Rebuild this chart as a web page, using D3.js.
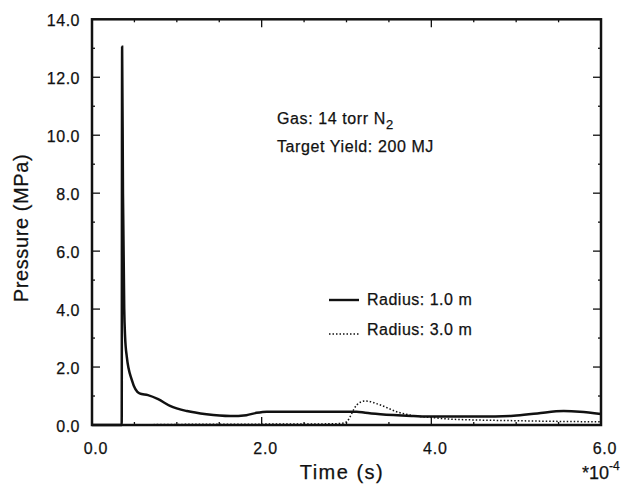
<!DOCTYPE html>
<html>
  <head>
    <meta charset="utf-8">
    <script type="text/javascript" src="https://d3js.org/d3.v7.min.js"></script>
  </head>
  <style>
    body { margin: 0; background: #fff; }
    svg text { font-family: "Liberation Sans", Arial, sans-serif; fill: #111; stroke: #111; stroke-width: 0.25px; }
  </style>
  <body>
    <script type="text/javascript">
        // radius 1.0 m (solid)
        var timeR1  = [0, 0.35, 0.355, 0.365, 0.38, 0.39, 0.41, 0.47, 0.56, 0.66, 0.78, 0.92, 1.12, 1.35, 1.63, 1.82, 1.94, 2.06, 2.34, 2.8, 3.12, 3.22, 3.4, 3.79, 4.0, 4.58, 4.97, 5.25, 5.56, 5.75, 6.0];
        var pressR1 = [0, 0, 13.05, 8.0, 4.0, 3.05, 2.36, 1.55, 1.09, 1.03, 0.89, 0.66, 0.48, 0.37, 0.31, 0.34, 0.42, 0.46, 0.46, 0.46, 0.46, 0.42, 0.37, 0.31, 0.29, 0.29, 0.32, 0.40, 0.48, 0.46, 0.38];
        // radius 3.0 m (dotted)
        var timeR3  = [0.35, 1.0, 2.0, 2.8, 2.95, 3.0, 3.12, 3.22, 3.4, 3.59, 3.79, 4.0, 4.18, 4.58, 4.97, 5.36, 6.0];
        var pressR3 = [0.0, 0.02, 0.03, 0.04, 0.06, 0.11, 0.69, 0.83, 0.69, 0.46, 0.32, 0.26, 0.21, 0.17, 0.15, 0.13, 0.11];

        var xTickVals = [0, 2, 4, 6];
        var yTickVals = [0, 2, 4, 6, 8, 10, 12, 14];
        var legendNames = ["Radius: 1.0 m", "Radius: 3.0 m"];

        var width = 631, height = 484;
        var pLeft = 92, pRight = 601, pTop = 19.3, pBottom = 425;

        var svg = d3.select("body").append("svg")
                    .attr("width", width)
                    .attr("height", height);

        var x = d3.scaleLinear().domain([0, 6]).range([pLeft, pRight]);
        var y = d3.scaleLinear().domain([0, 14]).range([pBottom, pTop]);
        var fmt = d3.format(".1f");

        //ticks inward on all four sides
        var ticks = svg.append("g").attr("stroke", "#111").attr("stroke-width", 1.3);
        d3.range(0, 6.01, 0.5).forEach(function(t) {
            var len = (t % 2 == 0) ? 8 : 3;
            ticks.append("line").attr("x1", x(t)).attr("x2", x(t)).attr("y1", pBottom).attr("y2", pBottom - len);
            ticks.append("line").attr("x1", x(t)).attr("x2", x(t)).attr("y1", pTop).attr("y2", pTop + len);
        });
        d3.range(0, 14.01, 1).forEach(function(v) {
            var len = (v % 2 == 0) ? 8 : 3;
            ticks.append("line").attr("y1", y(v)).attr("y2", y(v)).attr("x1", pLeft).attr("x2", pLeft + len);
            ticks.append("line").attr("y1", y(v)).attr("y2", y(v)).attr("x1", pRight).attr("x2", pRight - len);
        });

        //frame
        svg.append("rect")
            .attr("x", pLeft).attr("y", pTop)
            .attr("width", pRight - pLeft).attr("height", pBottom - pTop)
            .attr("fill", "none").attr("stroke", "#111").attr("stroke-width", 2.5);

        //tick labels
        svg.append("g").selectAll("text")
            .data(xTickVals).enter().append("text")
            .attr("x", function(d) { return x(d) + 4; })
            .attr("y", 454)
            .attr("text-anchor", "middle")
            .style("font-size", "16px")
            .style("letter-spacing", "0.8px")
            .text(fmt);
        svg.append("g").selectAll("text")
            .data(yTickVals).enter().append("text")
            .attr("x", 80)
            .attr("y", function(d) { return y(d) + 1; })
            .attr("dy", "0.35em")
            .attr("text-anchor", "end")
            .style("font-size", "16px")
            .style("letter-spacing", "0.5px")
            .text(fmt);

        //axis titles
        svg.append("text")
            .attr("x", 342).attr("y", 479)
            .attr("text-anchor", "middle")
            .style("font-size", "20px")
            .style("letter-spacing", "1.5px")
            .text("Time (s)");
        svg.append("text")
            .attr("transform", "translate(28,228) rotate(-90)")
            .attr("text-anchor", "middle")
            .style("font-size", "20px")
            .style("letter-spacing", "0.6px")
            .text("Pressure (MPa)");
        var mult = svg.append("text").attr("x", 582).attr("y", 479).style("font-size", "18px");
        mult.append("tspan").text("*10");
        mult.append("tspan").attr("dy", -9).style("font-size", "12px").text("-4");

        //annotation
        var gas = svg.append("text").attr("x", 277).attr("y", 124).style("font-size", "16px").style("letter-spacing", "0.6px");
        gas.append("tspan").text("Gas: 14 torr N");
        gas.append("tspan").attr("dy", 5).style("font-size", "13px").text("2");
        svg.append("text").attr("x", 277).attr("y", 152)
            .style("font-size", "16px").style("letter-spacing", "0.6px")
            .text("Target Yield: 200 MJ");

        //curves
        var line = d3.line().curve(d3.curveMonotoneX);
        svg.append("path")
            .attr("d", line(timeR1.map(function(t, i) { return [x(t), y(pressR1[i])]; })))
            .attr("fill", "none").attr("stroke", "#111").attr("stroke-width", 2.5);
        svg.append("path")
            .attr("d", line(timeR3.map(function(t, i) { return [x(t), y(pressR3[i])]; })))
            .attr("fill", "none").attr("stroke", "#111").attr("stroke-width", 1.5)
            .attr("stroke-dasharray", "1.5,2");

        //legend
        var legend = svg.append("g");
        legend.append("line").attr("x1", 329).attr("x2", 359).attr("y1", 300).attr("y2", 300)
            .attr("stroke", "#111").attr("stroke-width", 2.4);
        legend.append("line").attr("x1", 329).attr("x2", 360).attr("y1", 334).attr("y2", 334)
            .attr("stroke", "#111").attr("stroke-width", 1.5).attr("stroke-dasharray", "1.5,2");
        legend.selectAll("text").data(legendNames).enter().append("text")
            .attr("x", 367)
            .attr("y", function(d, i) { return 305 + i * 30; })
            .style("font-size", "16px")
            .style("letter-spacing", "0.5px")
            .text(function(d) { return d; });
    </script>
  </body>
</html>
